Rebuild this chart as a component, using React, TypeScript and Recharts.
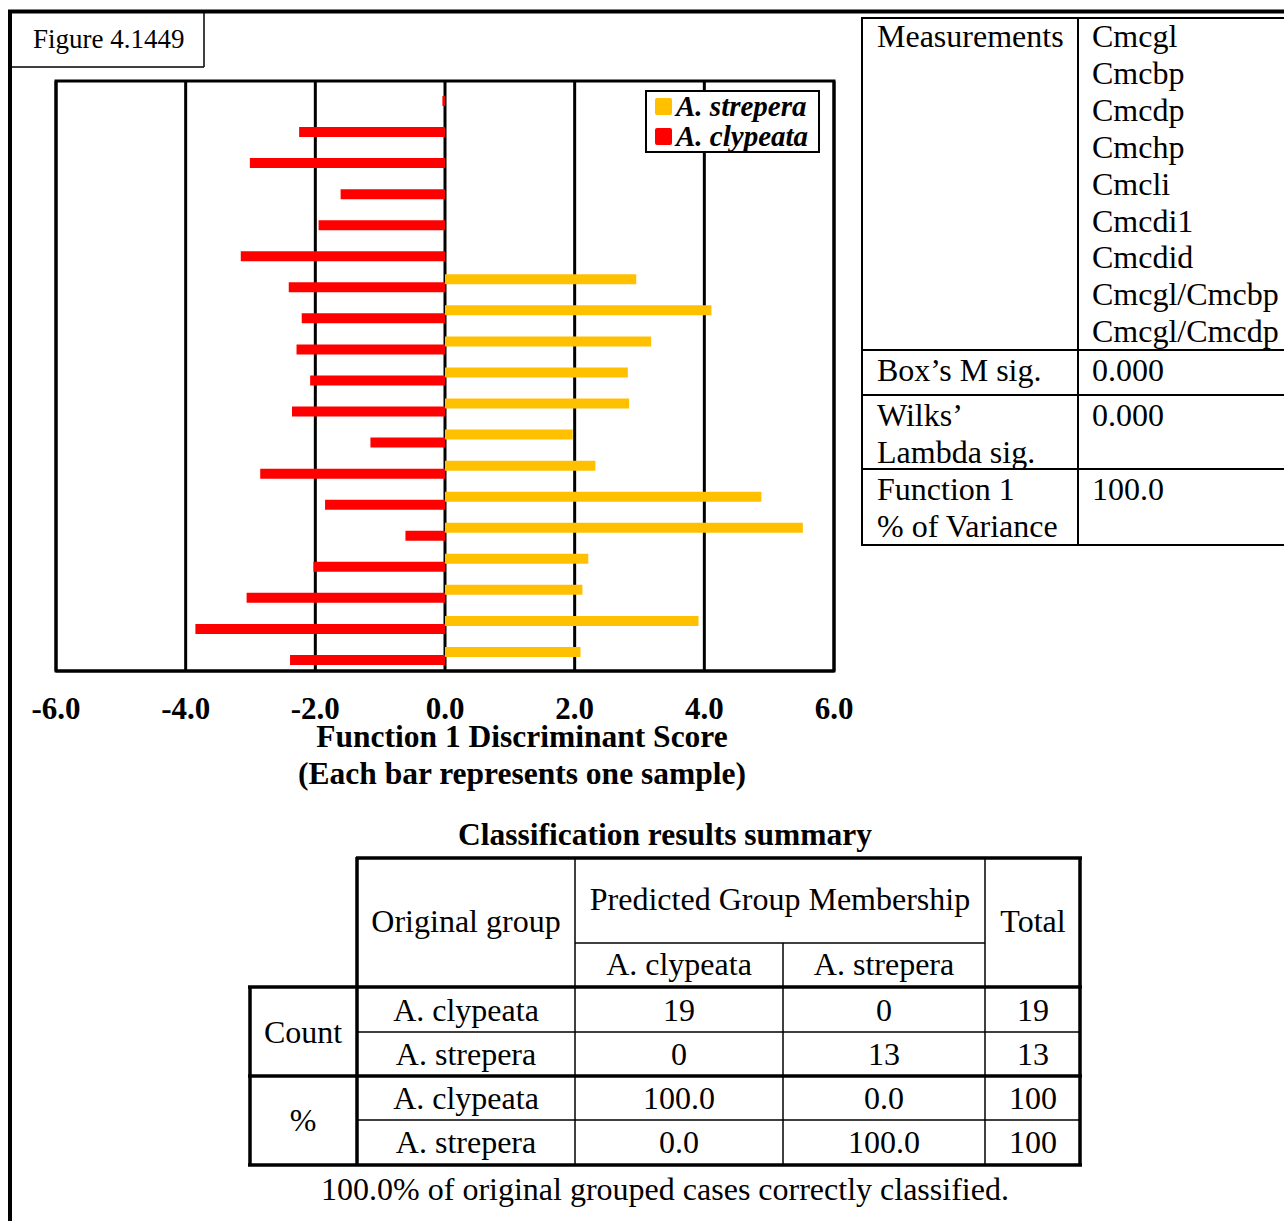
import React from 'react';
import { BarChart, Bar, XAxis, YAxis, CartesianGrid, ReferenceArea } from 'recharts';

// one row per sample, top to bottom
const samples = ['1', '2', '3', '4', '5', '6', '7', '8', '9', '10', '11', '12', '13', '14', '15', '16', '17', '18', '19'];
const clypeataScores = [-0.04, -2.25, -3.01, -1.61, -1.95, -3.15, -2.41, -2.21, -2.29, -2.08, -2.36, -1.15, -2.85, -1.85, -0.61, -2.03, -3.06, -3.85, -2.39];
const streperaScores = [null, null, null, null, null, null, 2.95, 4.11, 3.18, 2.82, 2.84, 1.97, 2.32, 4.88, 5.52, 2.21, 2.12, 3.91, 2.09];
const xTicks = [-6, -4, -2, 0, 2, 4, 6];

const SERIES = [
  { key: 'strepera', name: 'A. strepera', color: '#FFC000' },
  { key: 'clypeata', name: 'A. clypeata', color: '#FF0000' },
];

const measurements = ['Cmcgl', 'Cmcbp', 'Cmcdp', 'Cmchp', 'Cmcli', 'Cmcdi1', 'Cmcdid', 'Cmcgl/Cmcbp', 'Cmcgl/Cmcdp'];
const statsRows = [
  { label: ['Box\u2019s M sig.'], value: '0.000' },
  { label: ['Wilks\u2019', 'Lambda sig.'], value: '0.000' },
  { label: ['Function 1', '% of Variance'], value: '100.0' },
];

const predictedGroups = ['A. clypeata', 'A. strepera'];
const countRows = [
  ['A. clypeata', '19', '0', '19'],
  ['A. strepera', '0', '13', '13'],
];
const percentRows = [
  ['A. clypeata', '100.0', '0.0', '100'],
  ['A. strepera', '0.0', '100.0', '100'],
];

const SERIF = '"Liberation Serif", "Times New Roman", serif';

const data = samples.map((s, i) => ({
  sample: s,
  strepera: streperaScores[i],
  clypeata: clypeataScores[i],
}));

const ScoreTick = (props: any) => {
  const { x, y, payload } = props;
  return (
    <text x={x} y={y + 40} textAnchor="middle" fontFamily={SERIF} fontWeight="bold" fontSize={31} fill="#000">
      {Number(payload.value).toFixed(1)}
    </text>
  );
};

const T = ({ x, y, children, size = 32, anchor = 'start', weight = 'normal', italic = false }: any) => (
  <text
    x={x}
    y={y}
    textAnchor={anchor}
    fontFamily={SERIF}
    fontSize={size}
    fontWeight={weight}
    fontStyle={italic ? 'italic' : 'normal'}
    fill="#000"
  >
    {children}
  </text>
);

const L = ({ x1, y1, x2, y2, w = 2 }: any) => (
  <line x1={x1} y1={y1} x2={x2} y2={y2} stroke="#000" strokeWidth={w} />
);

export default function App() {
  // classification table columns
  const cx = [249, 357, 575, 783, 985, 1081];
  const mid = (a: number, b: number) => (a + b) / 2;
  const bodyRows = [...countRows, ...percentRows];
  const rowBase = [1021, 1065, 1109, 1153];

  return (
    <div style={{ position: 'absolute', left: 0, top: 0, width: 1284, height: 1221, background: '#fff', overflow: 'hidden' }}>
      <div style={{ position: 'absolute', left: 0, top: 0 }}>
        <BarChart
          width={900}
          height={760}
          layout="vertical"
          data={data}
          margin={{ top: 81, right: 66, bottom: 0, left: 56 }}
          barSize={10}
          barGap={-2}
        >
          <CartesianGrid horizontal={false} stroke="#000" strokeWidth={3} />
          <XAxis
            type="number"
            domain={[-6, 6]}
            ticks={xTicks}
            interval={0}
            height={89}
            tickLine={false}
            axisLine={{ stroke: '#000', strokeWidth: 3 }}
            tick={<ScoreTick />}
          />
          <YAxis type="category" dataKey="sample" hide />
          <ReferenceArea x1={-6} x2={6} fill="none" fillOpacity={0} stroke="#000" strokeWidth={3} />
          {SERIES.map(s => (
            <Bar key={s.key} dataKey={s.key} name={s.name} fill={s.color} isAnimationActive={false} />
          ))}
        </BarChart>
      </div>

      <svg width={1284} height={1221} style={{ position: 'absolute', left: 0, top: 0, pointerEvents: 'none' }}>
        {/* page frame */}
        <L x1={8} y1={11.5} x2={1284} y2={11.5} w={4} />
        <L x1={10} y1={10} x2={10} y2={1221} w={4} />
        <L x1={204} y1={12} x2={204} y2={67} w={1.5} />
        <L x1={10} y1={67} x2={204} y2={67} w={1.5} />
        <T x={33} y={48} size={27}>Figure 4.1449</T>

        {/* legend */}
        <rect x={646} y={91} width={173} height={61} fill="#fff" stroke="#000" strokeWidth={2} />
        {SERIES.map((s, i) => (
          <g key={s.key}>
            <rect x={655} y={98 + i * 30} width={17} height={17} rx={2} fill={s.color} />
            <T x={676} y={116 + i * 30} size={29} weight="bold" italic>{s.name}</T>
          </g>
        ))}

        {/* axis title */}
        <T x={522} y={747} size={31.5} weight="bold" anchor="middle">Function 1 Discriminant Score</T>
        <T x={522} y={784} size={31.5} weight="bold" anchor="middle">(Each bar represents one sample)</T>

        {/* right info table */}
        <L x1={862} y1={18} x2={1284} y2={18} />
        <L x1={862} y1={17} x2={862} y2={546} />
        <L x1={1078} y1={17} x2={1078} y2={546} />
        <L x1={862} y1={350} x2={1284} y2={350} />
        <L x1={862} y1={395} x2={1284} y2={395} />
        <L x1={862} y1={469} x2={1284} y2={469} />
        <L x1={862} y1={545} x2={1284} y2={545} />
        <T x={877} y={47}>Measurements</T>
        {measurements.map((m, i) => (
          <T key={m} x={1092} y={47 + i * 36.9}>{m}</T>
        ))}
        {statsRows.map((r, i) => {
          const base = [381, 426, 500][i];
          return (
            <g key={i}>
              {r.label.map((l, j) => (
                <T key={l} x={877} y={base + j * 37}>{l}</T>
              ))}
              <T x={1092} y={base}>{r.value}</T>
            </g>
          );
        })}

        {/* classification table */}
        <T x={665} y={845} size={31.5} weight="bold" anchor="middle">Classification results summary</T>
        <L x1={356} y1={858} x2={1082} y2={858} w={3.5} />
        <L x1={575} y1={943} x2={985} y2={943} w={1.5} />
        <L x1={248} y1={987} x2={1082} y2={987} w={3.5} />
        <L x1={357} y1={1032} x2={1081} y2={1032} w={1.5} />
        <L x1={248} y1={1076} x2={1082} y2={1076} w={3.5} />
        <L x1={357} y1={1120} x2={1081} y2={1120} w={1.5} />
        <L x1={248} y1={1165} x2={1082} y2={1165} w={3.5} />
        <L x1={250} y1={986} x2={250} y2={1166} w={3.5} />
        <L x1={357} y1={857} x2={357} y2={1166} w={3.5} />
        <L x1={575} y1={857} x2={575} y2={1166} w={1.5} />
        <L x1={783} y1={943} x2={783} y2={1166} w={1.5} />
        <L x1={985} y1={857} x2={985} y2={1166} w={1.5} />
        <L x1={1080} y1={857} x2={1080} y2={1166} w={3.5} />

        <T x={mid(cx[1], cx[2])} y={932} anchor="middle">Original group</T>
        <T x={mid(cx[2], cx[4])} y={910} anchor="middle">Predicted Group Membership</T>
        <T x={mid(cx[4], cx[5])} y={932} anchor="middle">Total</T>
        <T x={mid(cx[2], cx[3])} y={975} anchor="middle">{predictedGroups[0]}</T>
        <T x={mid(cx[3], cx[4])} y={975} anchor="middle">{predictedGroups[1]}</T>
        <T x={mid(cx[0], cx[1])} y={1043} anchor="middle">Count</T>
        <T x={mid(cx[0], cx[1])} y={1131} anchor="middle">%</T>
        {bodyRows.map((row, i) => (
          <g key={i}>
            {row.map((cell, j) => (
              <T key={j} x={mid(cx[j + 1], cx[j + 2])} y={rowBase[i]} anchor="middle">{cell}</T>
            ))}
          </g>
        ))}
        <T x={665} y={1200} anchor="middle">100.0% of original grouped cases correctly classified.</T>
      </svg>
    </div>
  );
}
